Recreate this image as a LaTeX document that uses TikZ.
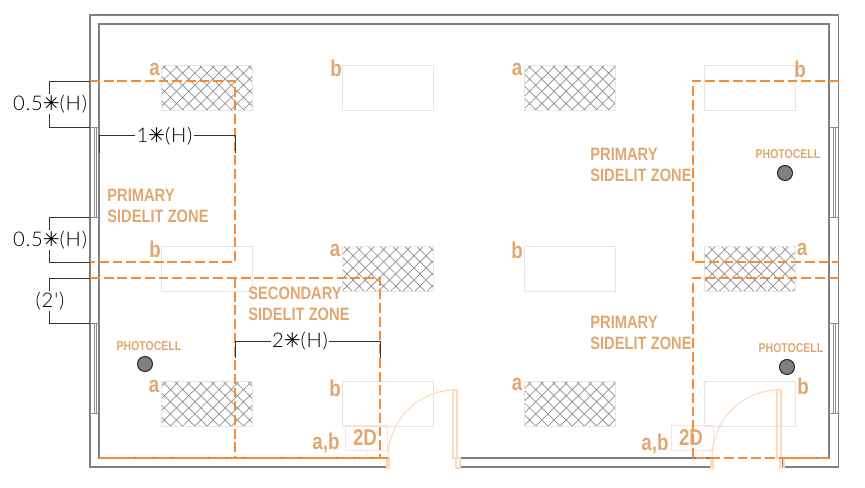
\documentclass[tikz,border=0pt]{standalone}
\usepackage{fontspec}
\usetikzlibrary{patterns.meta}
\newfontfamily\zonefont[FakeStretch=0.82]{Liberation Sans}
\newfontfamily\dimfont[UprightFont=* Light, LetterSpace=4]{Lato}
\newfontfamily\symfont{DejaVu Sans}
\definecolor{zoneorange}{RGB}{247,140,55}
\definecolor{labeltan}{RGB}{224,168,112}
\definecolor{doorpale}{RGB}{252,218,185}
\newcommand{\dimstar}{{\symfont\char"2733}}
\tikzset{
	wallline/.style={draw=black!50, line width=0.75pt},
	windowline/.style={draw=black!45, line width=0.5pt},
	zoneline/.style={draw=zoneorange, line width=1.15pt, dash pattern=on 5.6pt off 2.2pt},
	dimline/.style={draw=black!80, line width=0.55pt},
	doorline/.style={draw=doorpale, line width=0.6pt},
	dimtext/.style={fill=white, inner sep=0.6pt, font=\dimfont\fontsize{11.5}{13}\selectfont},
	zonetext/.style={anchor=west, align=left, inner sep=0pt, text=labeltan, font=\zonefont\bfseries\fontsize{10.2}{12}\selectfont},
	marktext/.style={inner sep=0pt, text=labeltan, font=\zonefont\bfseries\fontsize{13}{15}\selectfont},
	celltext/.style={inner sep=0pt, text=labeltan, font=\zonefont\bfseries\fontsize{7.3}{8}\selectfont},
	plainpatch/.style={draw=black!10, line width=0.5pt, minimum width=1.82cm, minimum height=0.9cm, inner sep=0pt},
	hatchpatch/.style={plainpatch, pattern={Hatch[angle=45, distance=4.9pt, line width=0.4pt]}, pattern color=black!45},
	cellsymbol/.style={draw=black!85, fill=black!50, circle, line width=0.6pt, minimum size=0.3cm, inner sep=0pt},
	twodbox/.style={draw=red!12, line width=0.5pt, minimum width=0.84cm, minimum height=0.5cm, inner sep=0pt}
}
\begin{document}
\begin{tikzpicture}[x=0.02cm, y=-0.02cm]
	\useasboundingbox (0,0) rectangle (865,487);
	
	\node[hatchpatch] (pa) at (206.8,87.5) {};
	\node[plainpatch] (pb) at (387.8,87.5) {};
	\node[hatchpatch] (pc) at (569.8,87.5) {};
	\node[plainpatch] (pd) at (749.8,87.5) {};
	\node[plainpatch] (pe) at (206.8,268.5) {};
	\node[hatchpatch] (pf) at (387.8,268.5) {};
	\node[plainpatch] (pg) at (569.8,268.5) {};
	\node[hatchpatch] (ph) at (749.8,268.5) {};
	\node[hatchpatch] (pi) at (206.8,403.5) {};
	\node[plainpatch] (pj) at (387.8,403.5) {};
	\node[hatchpatch] (pk) at (569.8,403.5) {};
	\node[plainpatch] (pl) at (749.8,403.5) {};
	
	\node[twodbox] (boxa) at (366,437.5) {};
	\node[twodbox] (boxb) at (692,437.5) {};
	\draw[draw=red!12, line width=0.4pt] (boxa.south) -- ++(0,6);
	
	\draw[wallline] (388,467) -- (90,467) -- (90,15) -- (838.5,15) -- (838.5,467) -- (783,467) -- (783,458) -- (829,458) -- (829,24) -- (99,24) -- (99,458) -- (388,458) -- cycle;
	\draw[wallline] (460,458) rectangle (711,467);
	
	\draw[windowline] (90,127) -- (99,127);
	\draw[windowline] (94,127) -- (94,217);
	\draw[windowline] (96,127) -- (96,217);
	\draw[windowline] (90,217) -- (99,217);
	\draw[windowline] (90,323) -- (99,323);
	\draw[windowline] (94,323) -- (94,413);
	\draw[windowline] (96,323) -- (96,413);
	\draw[windowline] (90,413) -- (99,413);
	\draw[windowline] (829,127) -- (838.5,127);
	\draw[windowline] (833,127) -- (833,217);
	\draw[windowline] (835,127) -- (835,217);
	\draw[windowline] (829,217) -- (838.5,217);
	\draw[windowline] (829,323) -- (838.5,323);
	\draw[windowline] (833,323) -- (833,413);
	\draw[windowline] (835,323) -- (835,413);
	\draw[windowline] (829,413) -- (838.5,413);
	
	\draw[doorline] (388,458) arc (180:270:67 and 68);
	\draw[doorline] (453,390) rectangle (457,458);
	\draw[doorline] (387,458) rectangle (389,468);
	\draw[doorline] (456,458) rectangle (460,468);
	\draw[doorline] (712,458) arc (180:270:67 and 68);
	\draw[doorline] (777,390) rectangle (781,458);
	\draw[doorline] (711,458) rectangle (713,468);
	\draw[doorline] (780,458) rectangle (784,468);
	
	\draw[zoneline] (90,81) -- (235,81) -- (235,262) -- (90,262);
	\draw[zoneline] (90,278) -- (380,278) -- (380,458);
	\draw[zoneline] (235,278) -- (235,458);
	\draw[zoneline, dash pattern=on 10pt off 0.4pt] (99,458) -- (388,458);
	\draw[zoneline] (838.5,81) -- (693,81) -- (693,262) -- (838.5,262);
	\draw[zoneline] (838.5,278) -- (693,278) -- (693,458) -- (780,458);
	\draw[zoneline, dash pattern=on 10pt off 0.4pt] (780,458) -- (829,458);
	
	\draw[dimline] (90,81) -- (49.5,81) -- (49.5,127) -- (90,127);
	\draw[dimline] (90,217) -- (49.5,217) -- (49.5,262) -- (90,262);
	\draw[dimline] (90,278) -- (49.5,278) -- (49.5,323) -- (90,323);
	\draw[dimline] (99,153) -- (99,135) -- (235,135) -- (235,153);
	\draw[dimline] (235,358) -- (235,341) -- (380,341) -- (380,358);
	
	\node[dimtext] (dima) at (50,104) {0.5\dimstar(H)};
	\node[dimtext] (dimb) at (50,240) {0.5\dimstar(H)};
	\node[dimtext] (dimc) at (50,301) {(2')};
	\node[dimtext] (dimd) at (164.5,136) {1\dimstar(H)};
	\node[dimtext] (dime) at (300,341) {2\dimstar(H)};
	
	\node[zonetext] (zonea) at (107,205.5) {PRIMARY\\SIDELIT ZONE};
	\node[zonetext] (zoneb) at (590,164.5) {PRIMARY\\SIDELIT ZONE};
	\node[zonetext] (zonec) at (590,333) {PRIMARY\\SIDELIT ZONE};
	\node[zonetext] (zoned) at (248,304) {SECONDARY\\SIDELIT ZONE};
	
	\node[marktext] (ma) at (154.5,69.5) {a};
	\node[marktext] (mb) at (336,68.5) {b};
	\node[marktext] (mc) at (517,69.5) {a};
	\node[marktext] (md) at (800,69.5) {b};
	\node[marktext] (me) at (155,249) {b};
	\node[marktext] (mf) at (335,250) {a};
	\node[marktext] (mg) at (517,250) {b};
	\node[marktext] (mh) at (802,249.5) {a};
	\node[marktext] (mi) at (154,386.5) {a};
	\node[marktext] (mj) at (335,388) {b};
	\node[marktext] (mk) at (517,384.5) {a};
	\node[marktext] (ml) at (803,386) {b};
	\node[marktext] (mm) at (326,443) {a,b};
	\node[marktext] (mn) at (655,444) {a,b};
	\node[marktext] (twoa) at (365,438) {2D};
	\node[marktext] (twob) at (691,438) {2D};
	
	\node[celltext] (texta) at (149,346) {PHOTOCELL};
	\node[celltext] (textb) at (788,154) {PHOTOCELL};
	\node[celltext] (textc) at (791,348) {PHOTOCELL};
	\node[cellsymbol] (cella) at (145,364) {};
	\node[cellsymbol] (cellb) at (785,173) {};
	\node[cellsymbol] (cellc) at (787,367) {};
\end{tikzpicture}
\end{document}
